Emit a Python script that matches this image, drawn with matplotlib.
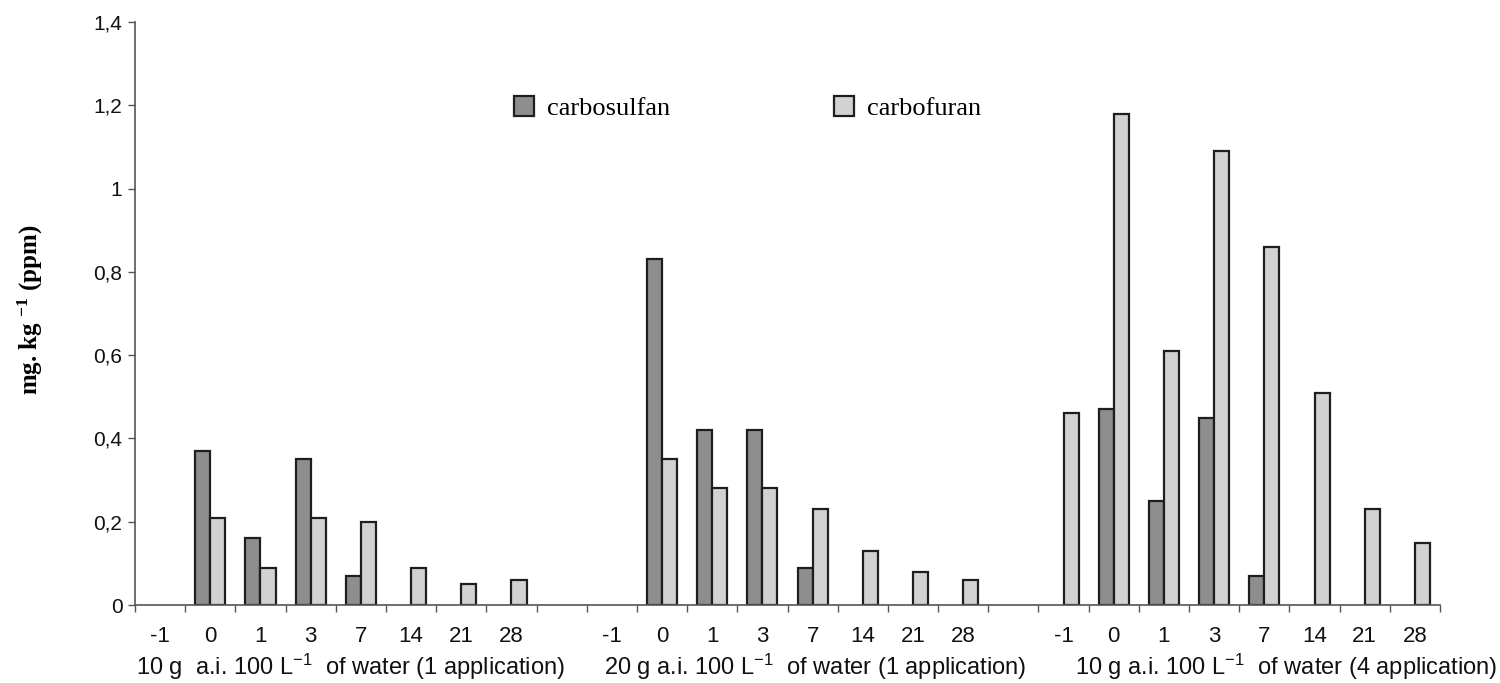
import numpy as np
import matplotlib.pyplot as plt
from matplotlib.transforms import blended_transform_factory

plt.rcParams['font.family'] = 'Liberation Sans'
plt.rcParams['mathtext.default'] = 'regular'

days = ['-1', '0', '1', '3', '7', '14', '21', '28']
groups = ['10 g  a.i. 100 L$^{-1}$  of water (1 application)',
          '20 g a.i. 100 L$^{-1}$  of water (1 application)',
          '10 g a.i. 100 L$^{-1}$  of water (4 application)']

nan = np.nan
# residues per group, day order as in days
carbosulfan = [
    [nan, 0.37, 0.16, 0.35, 0.07, nan, nan, nan],
    [nan, 0.83, 0.42, 0.42, 0.09, nan, nan, nan],
    [nan, 0.47, 0.25, 0.45, 0.07, nan, nan, nan],
]
carbofuran = [
    [nan, 0.21, 0.09, 0.21, 0.20, 0.09, 0.05, 0.06],
    [nan, 0.35, 0.28, 0.28, 0.23, 0.13, 0.08, 0.06],
    [0.46, 1.18, 0.61, 1.09, 0.86, 0.51, 0.23, 0.15],
]

# left edge of each group caption, in category units
label_left = [-0.48, 8.84, 18.23]

fig = plt.figure(figsize=(15, 6.83), dpi=100)
ax = fig.add_axes([0.09, 0.1142, 0.87, 0.8536])

w = 0.3
ticks_pos, ticks_lab = [], []
for g in range(3):
    x = np.arange(len(days)) + g * (len(days) + 1)
    ax.bar(x - w / 2, carbosulfan[g], w, color='#8e8e8e', edgecolor='#1e1e1e',
           linewidth=1.6, label='carbosulfan' if g == 0 else None)
    ax.bar(x + w / 2, carbofuran[g], w, color='#d2d2d2', edgecolor='#1e1e1e',
           linewidth=1.6, label='carbofuran' if g == 0 else None)
    ticks_pos += list(x)
    ticks_lab += days

ncat = 3 * len(days) + 2
ax.set_xlim(-0.5, ncat - 0.5)
ax.set_ylim(0, 1.4)
ax.set_xticks(ticks_pos)
ax.set_xticklabels(ticks_lab, fontsize=16, color='#111111')
ax.set_xticks(np.arange(-0.5, ncat, 1), minor=True)
ax.tick_params(axis='x', which='major', length=0, pad=15)
ax.tick_params(axis='x', which='minor', length=5, width=1, color='#555555')
ax.set_yticks(np.arange(0, 1.41, 0.2))
ax.set_yticklabels(['0', '0,2', '0,4', '0,6', '0,8', '1', '1,2', '1,4'],
                   fontsize=15, color='#111111')
ax.tick_params(axis='y', length=5, width=1, color='#555555', pad=4)

for s in ['top', 'right']:
    ax.spines[s].set_visible(False)
for s in ['left', 'bottom']:
    ax.spines[s].set_color('#555555')
    ax.spines[s].set_linewidth(1.2)

tr = blended_transform_factory(ax.transData, ax.transAxes)
for xl, lab in zip(label_left, groups):
    ax.text(xl, -0.12, lab, transform=tr, ha='left', va='baseline',
            fontsize=17, color='#111111')

fig.text(0.02, 1 - 310 / 683, 'mg. kg $^{-1}$ (ppm)', family='Liberation Serif',
         fontweight='bold', fontsize=18, rotation=90, ha='center', va='center')

ax.legend(loc='center left', bbox_to_anchor=(514 / 1500, 1 - 108 / 683),
          bbox_transform=fig.transFigure, ncol=2, frameon=False,
          borderpad=0, borderaxespad=0,
          prop={'family': 'Liberation Serif', 'size': 19},
          handlelength=0.76, handleheight=0.76, handletextpad=0.5,
          columnspacing=6.2)

fig.savefig('out.png')
